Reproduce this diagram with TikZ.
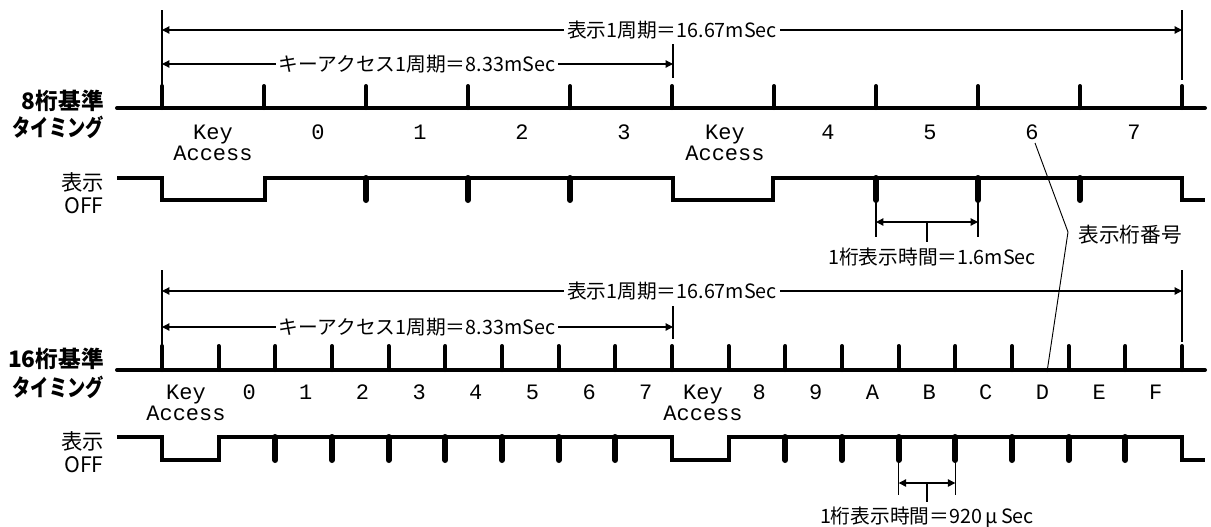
\documentclass[tikz,border=0pt]{standalone}
\usepackage{fontspec}
\usetikzlibrary{arrows.meta}
\newfontfamily\jp{Noto Sans CJK JP}
\newfontfamily\jpnarrow{Noto Sans CJK JP}[FakeStretch=0.78]
\newfontfamily\mono{Liberation Mono}
\begin{document}
\begin{tikzpicture}[x=0.75pt,y=-0.75pt,
  baseln/.style={line width=3pt,line cap=round},
  tickln/.style={line width=3pt,line cap=round},
  pulseln/.style={line width=4.5pt,line cap=round},
  waveln/.style={line width=3pt,line join=miter},
  thinln/.style={line width=0.9pt},
  dimln/.style={line width=0.9pt,{Triangle[length=5.5pt,width=5.5pt]}-{Triangle[length=5.5pt,width=5.5pt]}},
  dimlbl/.style={font=\jp\fontsize{14.8}{16}\selectfont,fill=white,inner sep=2pt},
  seglbl/.style={font=\mono\fontsize{16.5}{15.75}\selectfont,align=center,inner sep=0pt},
  sidelbl/.style={anchor=east,align=right,inner sep=0pt},
  titleA/.style={sidelbl,font=\jp\bfseries\fontsize{17}{18}\selectfont},
  titleB/.style={sidelbl,font=\jpnarrow\bfseries\fontsize{17.5}{18}\selectfont},
]
\useasboundingbox (0,0) rectangle (1211,526);

% ---------- left labels ----------
\node[titleA] (lab8a) at (104,101) {8桁基準};
\node[titleB] (lab8b) at (104,127) {タイミング};
\node[sidelbl,font=\jp\fontsize{16}{17}\selectfont] (off8) at (104,193) {表示\\OFF};
\node[titleA] (lab16a) at (104,359) {16桁基準};
\node[titleB] (lab16b) at (104,387) {タイミング};
\node[sidelbl,font=\jp\fontsize{16}{17}\selectfont] (off16) at (104,452) {表示\\OFF};

% ---------- 8-digit timing ----------
\draw[baseln] (117,108) -- (1205,108);
\foreach \k in {0,...,10} {
  \coordinate (t\k) at (162+102*\k,108);
  \draw[tickln] (162+102*\k,86) -- (t\k);
}
\node[seglbl] (s8k0) at (213,142.5) {Key\\Access};
\foreach \k/\t in {1/0,2/1,3/2,4/3,6/4,7/5,8/6,9/7}
  \node[seglbl] (s8n\t) at (162+102*\k+54,132) {\t};
\node[seglbl] (s8k1) at (162+102*5+53,142.5) {Key\\Access};

\draw[waveln] (117,178) -- (162,178) -- (162,200) -- (265,200) -- (265,178)
  -- (673,178) -- (673,200) -- (773,200) -- (773,178) -- (1182,178) -- (1182,200) -- (1205,200);
\foreach \k in {2,3,4,7,8,9}
  \draw[pulseln] (162+102*\k,178) -- (162+102*\k,200);

% dimensions, top
\coordinate (a8l) at (162,10);
\coordinate (a8r) at (1182,10);
\draw[thinln] (a8l) -- (162,86);
\draw[thinln] (a8r) -- (1182,80);
\draw[thinln] (673,44) -- (673,78);
\draw[dimln] (162,30) -- (1182,30);
\node[dimlbl] (p8) at (672,30) {表示1周期＝16.67mSec};
\draw[dimln] (162,64) -- (673,64);
\node[dimlbl] (k8) at (417,64) {キーアクセス1周期＝8.33mSec};

% digit time, top
\draw[thinln] (876,200) -- (876,237);
\draw[thinln] (978,200) -- (978,237);
\draw[dimln] (876,222) -- (978,222);
\coordinate (d8c) at (927,222);
\node[dimlbl,fill=none] (d8) at (932,257) {1桁表示時間＝1.6mSec};
\draw[thinln] (d8c) -- (927,242);

% ---------- 16-digit timing ----------
\draw[baseln] (117,370) -- (1205,370);
\foreach \k in {0,...,18} {
  \coordinate (b\k) at (162+56.667*\k,370);
  \draw[tickln] (162+56.667*\k,346) -- (b\k);
}
\node[seglbl] (s16k0) at (186,402.5) {Key\\Access};
\foreach \k/\t in {1/0,2/1,3/2,4/3,5/4,6/5,7/6,8/7,10/8,11/9,12/A,13/B,14/C,15/D,16/E,17/F}
  \node[seglbl] (s16n\t) at (162+56.667*\k+30.5,392) {\t};
\node[seglbl] (s16k1) at (703,402.5) {Key\\Access};

\draw[waveln] (117,437) -- (162,437) -- (162,460) -- (218.67,460) -- (218.67,437)
  -- (672,437) -- (672,460) -- (728.67,460) -- (728.67,437) -- (1182,437) -- (1182,460) -- (1205,460);
\foreach \k in {2,...,8,11,12,...,17}
  \draw[pulseln] (162+56.667*\k,437) -- (162+56.667*\k,460);

% dimensions, bottom
\draw[thinln] (162,270) -- (162,346);
\draw[thinln] (1182,270) -- (1182,342);
\draw[thinln] (673,306) -- (673,339);
\draw[dimln] (162,291) -- (1182,291);
\node[dimlbl] (p16) at (672,291) {表示1周期＝16.67mSec};
\draw[dimln] (162,327) -- (673,327);
\node[dimlbl] (k16) at (417,327) {キーアクセス1周期＝8.33mSec};

% digit time, bottom
\draw[thinln] (898.7,460) -- (898.7,495);
\draw[thinln] (955.3,460) -- (955.3,495);
\draw[dimln] (898.7,483) -- (955.3,483);
\coordinate (d16c) at (927,483);
\node[dimlbl,fill=none] (d16) at (927,517) {1桁表示時間＝920\,μ\,Sec};
\draw[thinln] (d16c) -- (927,502);

% ---------- leader ----------
\node[dimlbl,fill=none,font=\jp\fontsize{15.5}{16}\selectfont] (num) at (1130,235) {表示桁番号};
\coordinate (kink) at (1068,232);
\draw[thinln,line width=0.7pt] (1035,143) -- (kink) -- (1047,372);
\end{tikzpicture}
\end{document}
